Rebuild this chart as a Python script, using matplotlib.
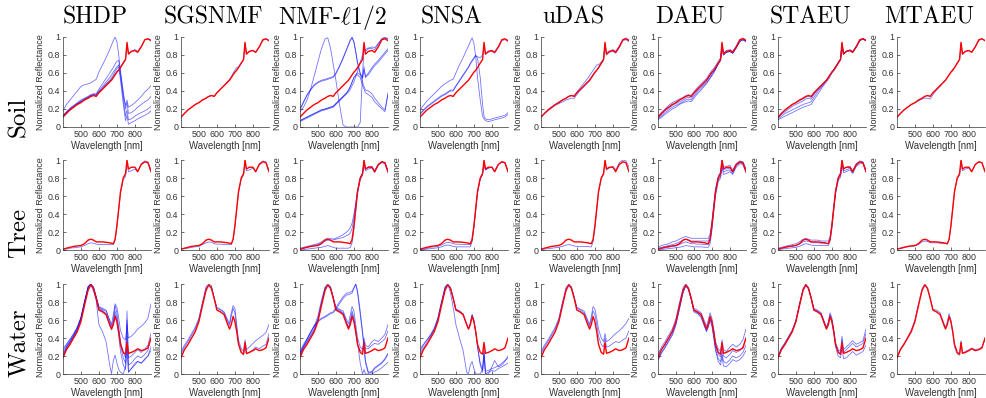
import matplotlib.pyplot as plt

plt.rcParams['mathtext.fontset'] = 'cm'
plt.rcParams['font.family'] = 'Liberation Sans'

# wavelength samples [nm]
wl = [401, 420, 440, 460, 480, 500, 520, 540, 555, 570, 585, 600, 620, 640, 660, 670,
      680, 690, 700, 710, 720, 735, 748, 756, 764, 780, 800, 815, 835, 855, 872, 889]

methods = ['SHDP', 'SGSNMF', r'NMF-$\ell$1/2', 'SNSA', 'uDAS', 'DAEU', 'STAEU', 'MTAEU']
materials = ['Soil', 'Tree', 'Water']

# ground truth (red)
soil_ref = [0.11, 0.15, 0.19, 0.22, 0.25, 0.27, 0.30, 0.32, 0.34, 0.35, 0.34, 0.38, 0.42, 0.46, 0.50, 0.52,
            0.55, 0.58, 0.61, 0.63, 0.66, 0.71, 0.75, 0.94, 0.81, 0.84, 0.85, 0.83, 0.89, 0.97, 0.98, 0.96]
tree_ref = [0.01, 0.02, 0.03, 0.04, 0.045, 0.05, 0.07, 0.11, 0.12, 0.11, 0.09, 0.09, 0.09, 0.085, 0.08, 0.075,
            0.07, 0.12, 0.27, 0.46, 0.65, 0.80, 0.85, 1.0, 0.90, 0.92, 0.92, 0.87, 0.95, 0.98, 0.97, 0.87]
water_ref = [0.18, 0.27, 0.33, 0.40, 0.47, 0.58, 0.76, 0.93, 0.99, 0.95, 0.84, 0.71, 0.69, 0.66, 0.55, 0.50,
             0.55, 0.64, 0.58, 0.47, 0.33, 0.24, 0.22, 0.35, 0.23, 0.24, 0.26, 0.28, 0.26, 0.27, 0.29, 0.40]

# ---- estimated endmembers (blue), soil ----
shdp_soil_1 = [0.18, 0.25, 0.30, 0.35, 0.40, 0.45, 0.47, 0.48, 0.49, 0.51, 0.53, 0.61, 0.69, 0.77, 0.86, 0.91,
               0.96, 1.0, 0.95, 0.80, 0.60, 0.36, 0.24, 0.30, 0.22, 0.24, 0.27, 0.30, 0.34, 0.39, 0.42, 0.46]
shdp_soil_2 = [0.13, 0.17, 0.21, 0.24, 0.27, 0.30, 0.32, 0.34, 0.36, 0.37, 0.37, 0.42, 0.48, 0.54, 0.60, 0.63,
               0.66, 0.70, 0.73, 0.74, 0.62, 0.40, 0.20, 0.27, 0.15, 0.16, 0.19, 0.22, 0.25, 0.28, 0.30, 0.34]
shdp_soil_3 = [0.12, 0.16, 0.20, 0.23, 0.26, 0.29, 0.31, 0.33, 0.35, 0.36, 0.36, 0.40, 0.45, 0.50, 0.55, 0.58,
               0.61, 0.64, 0.67, 0.69, 0.56, 0.32, 0.12, 0.19, 0.08, 0.09, 0.12, 0.14, 0.16, 0.18, 0.20, 0.23]
shdp_soil_4 = [0.12, 0.16, 0.19, 0.22, 0.25, 0.28, 0.30, 0.32, 0.34, 0.35, 0.35, 0.39, 0.43, 0.48, 0.52, 0.55,
               0.58, 0.62, 0.65, 0.67, 0.52, 0.26, 0.07, 0.13, 0.03, 0.05, 0.07, 0.09, 0.11, 0.13, 0.15, 0.18]
shdp_soil_5 = [0.12, 0.16, 0.20, 0.23, 0.26, 0.28, 0.31, 0.33, 0.35, 0.36, 0.35, 0.39, 0.43, 0.47, 0.51, 0.53,
               0.56, 0.59, 0.62, 0.64, 0.67, 0.72, 0.76, 0.92, 0.82, 0.84, 0.86, 0.84, 0.90, 0.97, 0.98, 0.97]
sgsnmf_soil_1 = [0.11, 0.15, 0.19, 0.22, 0.25, 0.27, 0.30, 0.32, 0.34, 0.35, 0.34, 0.38, 0.42, 0.46, 0.51, 0.53,
                 0.56, 0.60, 0.63, 0.66, 0.67, 0.71, 0.75, 0.93, 0.81, 0.84, 0.85, 0.83, 0.89, 0.96, 0.98, 0.96]
nmf_soil_1 = [0.17, 0.22, 0.30, 0.42, 0.57, 0.72, 0.87, 0.98, 0.99, 0.88, 0.70, 0.52, 0.25, 0.02, 0.0, 0.0,
              0.0, 0.0, 0.0, 0.0, 0.0, 0.05, 0.60, 0.86, 0.84, 0.87, 0.89, 0.88, 0.93, 0.98, 0.99, 0.98]
nmf_soil_2 = [0.20, 0.28, 0.36, 0.42, 0.47, 0.50, 0.52, 0.53, 0.54, 0.55, 0.56, 0.60, 0.68, 0.77, 0.87, 0.92,
              0.97, 1.0, 0.95, 0.84, 0.72, 0.60, 0.55, 0.67, 0.56, 0.60, 0.66, 0.70, 0.74, 0.79, 0.83, 0.87]
nmf_soil_3 = [0.06, 0.08, 0.10, 0.12, 0.14, 0.16, 0.18, 0.19, 0.20, 0.21, 0.22, 0.25, 0.29, 0.33, 0.37, 0.39,
              0.42, 0.46, 0.50, 0.56, 0.62, 0.72, 0.80, 0.85, 0.86, 0.88, 0.87, 0.86, 0.92, 0.98, 1.0, 0.98]
nmf_soil_4 = [0.07, 0.09, 0.11, 0.13, 0.15, 0.17, 0.19, 0.20, 0.21, 0.22, 0.23, 0.26, 0.30, 0.34, 0.38, 0.41,
              0.45, 0.50, 0.55, 0.58, 0.60, 0.58, 0.50, 0.45, 0.41, 0.40, 0.37, 0.32, 0.27, 0.22, 0.19, 0.38]
nmf_soil_5 = [0.19, 0.27, 0.35, 0.41, 0.46, 0.49, 0.51, 0.52, 0.53, 0.54, 0.55, 0.59, 0.67, 0.76, 0.86, 0.91,
              0.96, 0.99, 0.94, 0.83, 0.71, 0.59, 0.54, 0.64, 0.55, 0.58, 0.64, 0.68, 0.72, 0.77, 0.81, 0.85]
nmf_soil_6 = [0.07, 0.09, 0.11, 0.13, 0.15, 0.17, 0.19, 0.20, 0.21, 0.22, 0.23, 0.26, 0.30, 0.34, 0.38, 0.41,
              0.45, 0.50, 0.55, 0.57, 0.58, 0.55, 0.46, 0.42, 0.38, 0.36, 0.33, 0.28, 0.24, 0.20, 0.17, 0.36]
snsa_soil_1 = [0.19, 0.24, 0.29, 0.33, 0.37, 0.41, 0.45, 0.48, 0.50, 0.52, 0.53, 0.60, 0.69, 0.77, 0.86, 0.90,
               0.95, 0.99, 0.93, 0.78, 0.55, 0.30, 0.12, 0.09, 0.07, 0.06, 0.07, 0.08, 0.09, 0.10, 0.11, 0.14]
snsa_soil_2 = [0.14, 0.18, 0.22, 0.25, 0.28, 0.31, 0.34, 0.36, 0.38, 0.40, 0.40, 0.45, 0.51, 0.57, 0.63, 0.66,
               0.70, 0.73, 0.76, 0.79, 0.78, 0.77, 0.80, 0.90, 0.81, 0.83, 0.84, 0.82, 0.88, 0.96, 0.97, 0.95]
snsa_soil_3 = [0.15, 0.19, 0.23, 0.26, 0.29, 0.32, 0.35, 0.37, 0.39, 0.41, 0.41, 0.46, 0.52, 0.58, 0.64, 0.67,
               0.71, 0.74, 0.77, 0.80, 0.76, 0.55, 0.25, 0.12, 0.09, 0.08, 0.09, 0.10, 0.11, 0.12, 0.13, 0.16]
udas_soil_1 = [0.11, 0.15, 0.19, 0.22, 0.25, 0.28, 0.30, 0.32, 0.34, 0.35, 0.35, 0.39, 0.44, 0.49, 0.54, 0.57,
               0.60, 0.63, 0.66, 0.69, 0.69, 0.72, 0.76, 0.92, 0.82, 0.84, 0.86, 0.84, 0.90, 0.97, 0.99, 0.97]
udas_soil_2 = [0.11, 0.15, 0.18, 0.21, 0.24, 0.26, 0.28, 0.30, 0.31, 0.32, 0.32, 0.36, 0.41, 0.45, 0.49, 0.51,
               0.54, 0.57, 0.60, 0.63, 0.65, 0.70, 0.74, 0.92, 0.80, 0.83, 0.84, 0.82, 0.88, 0.96, 0.97, 0.95]
daeu_soil_1 = [0.12, 0.16, 0.20, 0.24, 0.27, 0.29, 0.31, 0.33, 0.35, 0.36, 0.35, 0.39, 0.44, 0.48, 0.52, 0.54,
               0.57, 0.60, 0.63, 0.65, 0.68, 0.73, 0.77, 0.93, 0.82, 0.85, 0.86, 0.84, 0.90, 0.97, 0.99, 0.97]
daeu_soil_2 = [0.10, 0.14, 0.18, 0.21, 0.24, 0.26, 0.28, 0.30, 0.32, 0.33, 0.32, 0.36, 0.41, 0.45, 0.49, 0.51,
               0.54, 0.57, 0.60, 0.62, 0.65, 0.70, 0.74, 0.91, 0.80, 0.83, 0.84, 0.82, 0.88, 0.96, 0.97, 0.95]
daeu_soil_3 = [0.09, 0.12, 0.16, 0.19, 0.22, 0.24, 0.26, 0.28, 0.30, 0.31, 0.30, 0.34, 0.39, 0.43, 0.47, 0.49,
               0.52, 0.55, 0.58, 0.61, 0.64, 0.70, 0.74, 0.90, 0.80, 0.83, 0.84, 0.82, 0.88, 0.95, 0.97, 0.95]
daeu_soil_4 = [0.08, 0.11, 0.14, 0.17, 0.20, 0.22, 0.25, 0.27, 0.28, 0.29, 0.28, 0.32, 0.37, 0.41, 0.46, 0.48,
               0.51, 0.54, 0.57, 0.60, 0.64, 0.70, 0.75, 0.90, 0.81, 0.83, 0.84, 0.82, 0.88, 0.95, 0.97, 0.95]
staeu_soil_1 = [0.08, 0.10, 0.12, 0.14, 0.16, 0.18, 0.20, 0.22, 0.23, 0.24, 0.25, 0.30, 0.36, 0.42, 0.48, 0.50,
                0.53, 0.56, 0.60, 0.63, 0.66, 0.71, 0.75, 0.92, 0.81, 0.84, 0.85, 0.83, 0.89, 0.96, 0.98, 0.96]
staeu_soil_2 = [0.09, 0.12, 0.15, 0.17, 0.19, 0.21, 0.23, 0.25, 0.26, 0.27, 0.28, 0.33, 0.39, 0.44, 0.49, 0.52,
                0.55, 0.58, 0.61, 0.64, 0.67, 0.71, 0.75, 0.92, 0.81, 0.84, 0.85, 0.83, 0.89, 0.96, 0.98, 0.96]
staeu_soil_3 = [0.10, 0.14, 0.17, 0.20, 0.23, 0.25, 0.27, 0.29, 0.31, 0.32, 0.31, 0.36, 0.41, 0.45, 0.50, 0.52,
                0.55, 0.58, 0.61, 0.64, 0.67, 0.72, 0.76, 0.92, 0.82, 0.84, 0.86, 0.84, 0.90, 0.97, 0.98, 0.97]
staeu_soil_4 = [0.11, 0.15, 0.19, 0.22, 0.25, 0.27, 0.29, 0.31, 0.33, 0.34, 0.33, 0.37, 0.42, 0.46, 0.50, 0.52,
                0.55, 0.58, 0.61, 0.63, 0.66, 0.71, 0.75, 0.93, 0.81, 0.84, 0.85, 0.83, 0.89, 0.96, 0.98, 0.96]
mtaeu_soil_1 = [0.11, 0.15, 0.19, 0.22, 0.25, 0.27, 0.29, 0.31, 0.32, 0.32, 0.31, 0.36, 0.41, 0.45, 0.50, 0.52,
                0.55, 0.58, 0.61, 0.64, 0.66, 0.71, 0.75, 0.93, 0.81, 0.84, 0.85, 0.83, 0.89, 0.96, 0.98, 0.96]

# ---- tree ----
shdp_tree_1 = [0.005, 0.01, 0.02, 0.025, 0.03, 0.035, 0.05, 0.07, 0.08, 0.075, 0.065, 0.06, 0.06, 0.06, 0.06, 0.06,
               0.06, 0.11, 0.26, 0.45, 0.63, 0.78, 0.82, 0.96, 0.87, 0.88, 0.90, 0.87, 0.96, 0.99, 0.98, 0.89]
sgsnmf_tree_1 = [0.01, 0.015, 0.02, 0.03, 0.035, 0.04, 0.06, 0.08, 0.09, 0.085, 0.07, 0.065, 0.065, 0.06, 0.06, 0.06,
                 0.06, 0.11, 0.26, 0.45, 0.64, 0.79, 0.83, 0.97, 0.88, 0.89, 0.91, 0.87, 0.96, 0.99, 0.98, 0.89]
nmf_tree_1 = [0.02, 0.03, 0.04, 0.05, 0.06, 0.07, 0.09, 0.12, 0.13, 0.13, 0.12, 0.13, 0.15, 0.17, 0.20, 0.22,
              0.25, 0.30, 0.40, 0.52, 0.66, 0.80, 0.86, 0.99, 0.90, 0.92, 0.93, 0.88, 0.95, 0.98, 0.97, 0.88]
nmf_tree_2 = [0.01, 0.02, 0.03, 0.04, 0.05, 0.06, 0.08, 0.10, 0.11, 0.11, 0.11, 0.12, 0.13, 0.14, 0.16, 0.17,
              0.19, 0.24, 0.35, 0.50, 0.65, 0.80, 0.85, 0.99, 0.90, 0.92, 0.92, 0.87, 0.95, 0.98, 0.97, 0.87]
nmf_tree_3 = [0.0, 0.005, 0.01, 0.015, 0.02, 0.025, 0.03, 0.04, 0.05, 0.04, 0.03, 0.02, 0.02, 0.02, 0.02, 0.02,
              0.03, 0.08, 0.22, 0.42, 0.62, 0.78, 0.83, 0.97, 0.88, 0.90, 0.91, 0.86, 0.94, 0.97, 0.96, 0.86]
snsa_tree_1 = [0.005, 0.01, 0.02, 0.03, 0.035, 0.04, 0.055, 0.075, 0.085, 0.08, 0.07, 0.065, 0.065, 0.06, 0.06, 0.06,
               0.06, 0.11, 0.26, 0.45, 0.64, 0.79, 0.84, 0.98, 0.89, 0.91, 0.92, 0.87, 0.95, 0.98, 0.97, 0.88]
snsa_tree_2 = [0.0, 0.005, 0.01, 0.015, 0.02, 0.025, 0.035, 0.05, 0.055, 0.05, 0.04, 0.035, 0.035, 0.035, 0.035, 0.035,
               0.035, 0.09, 0.25, 0.45, 0.64, 0.79, 0.84, 0.98, 0.89, 0.91, 0.92, 0.87, 0.95, 0.98, 0.97, 0.88]
udas_tree_1 = [0.005, 0.01, 0.015, 0.02, 0.025, 0.03, 0.04, 0.055, 0.06, 0.055, 0.045, 0.04, 0.04, 0.04, 0.04, 0.035,
               0.035, 0.09, 0.24, 0.44, 0.64, 0.79, 0.84, 0.98, 0.89, 0.91, 0.93, 0.89, 0.97, 1.0, 0.99, 0.92]
daeu_tree_1 = [0.03, 0.05, 0.06, 0.07, 0.09, 0.10, 0.12, 0.14, 0.15, 0.14, 0.13, 0.13, 0.13, 0.13, 0.13, 0.13,
               0.13, 0.18, 0.32, 0.50, 0.68, 0.82, 0.87, 1.0, 0.93, 0.93, 0.94, 0.89, 0.96, 0.99, 0.98, 0.90]
daeu_tree_2 = [0.02, 0.03, 0.04, 0.05, 0.06, 0.07, 0.09, 0.11, 0.12, 0.11, 0.10, 0.10, 0.10, 0.10, 0.10, 0.10,
               0.10, 0.15, 0.29, 0.48, 0.66, 0.80, 0.85, 0.98, 0.90, 0.90, 0.91, 0.87, 0.95, 0.98, 0.97, 0.89]
daeu_tree_3 = [0.01, 0.02, 0.025, 0.03, 0.04, 0.045, 0.06, 0.08, 0.09, 0.08, 0.07, 0.07, 0.065, 0.065, 0.06, 0.06,
               0.06, 0.11, 0.26, 0.45, 0.63, 0.78, 0.82, 0.95, 0.87, 0.88, 0.89, 0.85, 0.94, 0.97, 0.96, 0.88]
daeu_tree_4 = [0.0, 0.005, 0.01, 0.015, 0.02, 0.025, 0.03, 0.04, 0.05, 0.045, 0.04, 0.035, 0.035, 0.035, 0.03, 0.03,
               0.03, 0.07, 0.22, 0.42, 0.60, 0.76, 0.80, 0.92, 0.84, 0.85, 0.87, 0.84, 0.92, 0.96, 0.95, 0.86]
staeu_tree_1 = [0.02, 0.03, 0.04, 0.05, 0.06, 0.07, 0.09, 0.12, 0.13, 0.12, 0.11, 0.11, 0.11, 0.10, 0.10, 0.10,
                0.10, 0.15, 0.30, 0.48, 0.66, 0.81, 0.86, 0.99, 0.91, 0.92, 0.93, 0.88, 0.96, 0.99, 0.98, 0.89]
staeu_tree_2 = [0.01, 0.02, 0.03, 0.035, 0.04, 0.05, 0.065, 0.09, 0.10, 0.095, 0.085, 0.08, 0.08, 0.075, 0.075, 0.07,
                0.07, 0.12, 0.27, 0.46, 0.64, 0.79, 0.83, 0.97, 0.88, 0.89, 0.91, 0.86, 0.94, 0.98, 0.97, 0.88]
staeu_tree_3 = [0.0, 0.01, 0.015, 0.02, 0.025, 0.03, 0.04, 0.06, 0.07, 0.065, 0.055, 0.05, 0.05, 0.05, 0.05, 0.05,
                0.05, 0.10, 0.25, 0.44, 0.62, 0.77, 0.81, 0.95, 0.86, 0.87, 0.89, 0.85, 0.93, 0.96, 0.96, 0.87]
mtaeu_tree_1 = [0.01, 0.015, 0.025, 0.035, 0.04, 0.045, 0.06, 0.09, 0.10, 0.095, 0.08, 0.08, 0.08, 0.075, 0.07, 0.07,
                0.065, 0.115, 0.27, 0.46, 0.65, 0.79, 0.83, 0.98, 0.88, 0.90, 0.91, 0.87, 0.95, 0.98, 0.97, 0.88]

# ---- water ----
shdp_water_1 = [0.20, 0.30, 0.36, 0.42, 0.50, 0.62, 0.80, 0.96, 1.0, 0.92, 0.82, 0.55, 0.47, 0.36, 0.10, 0.0,
                0.15, 0.21, 0.12, 0.05, 0.02, 0.0, 0.08, 0.42, 0.02, 0.06, 0.10, 0.14, 0.12, 0.17, 0.20, 0.26]
shdp_water_2 = [0.25, 0.32, 0.38, 0.44, 0.52, 0.62, 0.80, 0.97, 1.0, 0.97, 0.86, 0.74, 0.72, 0.70, 0.60, 0.55,
                0.66, 0.78, 0.74, 0.62, 0.48, 0.40, 0.38, 0.55, 0.40, 0.42, 0.46, 0.50, 0.53, 0.57, 0.62, 0.78]
shdp_water_3 = [0.22, 0.30, 0.36, 0.43, 0.50, 0.61, 0.79, 0.96, 1.0, 0.96, 0.85, 0.73, 0.71, 0.67, 0.56, 0.50,
                0.57, 0.70, 0.62, 0.48, 0.32, 0.18, 0.12, 0.60, 0.10, 0.12, 0.17, 0.20, 0.18, 0.22, 0.26, 0.40]
shdp_water_4 = [0.20, 0.28, 0.35, 0.42, 0.49, 0.60, 0.78, 0.95, 0.99, 0.95, 0.84, 0.72, 0.70, 0.66, 0.54, 0.49,
                0.55, 0.66, 0.58, 0.42, 0.25, 0.10, 0.05, 0.30, 0.02, 0.06, 0.12, 0.14, 0.12, 0.16, 0.20, 0.30]
shdp_water_5 = [0.28, 0.33, 0.39, 0.45, 0.52, 0.63, 0.80, 0.97, 1.0, 0.96, 0.86, 0.75, 0.73, 0.71, 0.59, 0.53,
                0.60, 0.76, 0.68, 0.52, 0.36, 0.24, 0.18, 0.70, 0.18, 0.20, 0.24, 0.27, 0.24, 0.28, 0.32, 0.45]
sgsnmf_water_1 = [0.25, 0.32, 0.38, 0.45, 0.52, 0.62, 0.80, 0.97, 1.0, 0.98, 0.84, 0.74, 0.72, 0.69, 0.60, 0.56,
                  0.68, 0.76, 0.73, 0.55, 0.38, 0.28, 0.25, 0.38, 0.27, 0.30, 0.34, 0.37, 0.40, 0.43, 0.46, 0.55]
sgsnmf_water_2 = [0.22, 0.30, 0.36, 0.43, 0.50, 0.60, 0.78, 0.95, 0.99, 0.97, 0.85, 0.73, 0.71, 0.68, 0.58, 0.54,
                  0.64, 0.73, 0.68, 0.50, 0.34, 0.24, 0.21, 0.33, 0.22, 0.24, 0.27, 0.30, 0.28, 0.31, 0.33, 0.45]
nmf_water_1 = [0.25, 0.33, 0.39, 0.46, 0.53, 0.64, 0.82, 0.97, 1.0, 0.97, 0.86, 0.74, 0.72, 0.70, 0.60, 0.56,
               0.66, 0.75, 0.70, 0.55, 0.40, 0.30, 0.27, 0.40, 0.32, 0.30, 0.36, 0.38, 0.36, 0.40, 0.44, 0.55]
nmf_water_2 = [0.22, 0.30, 0.36, 0.43, 0.50, 0.61, 0.79, 0.95, 0.99, 0.96, 0.85, 0.73, 0.71, 0.68, 0.57, 0.52,
               0.60, 0.70, 0.62, 0.48, 0.35, 0.12, 0.0, 0.05, 0.0, 0.0, 0.0, 0.02, 0.04, 0.07, 0.10, 0.13]
nmf_water_3 = [0.20, 0.28, 0.35, 0.42, 0.49, 0.60, 0.78, 0.95, 0.99, 0.96, 0.85, 0.72, 0.70, 0.67, 0.56, 0.51,
               0.57, 0.67, 0.60, 0.47, 0.33, 0.26, 0.25, 0.36, 0.28, 0.28, 0.32, 0.34, 0.33, 0.36, 0.39, 0.48]
nmf_water_4 = [0.22, 0.30, 0.38, 0.46, 0.53, 0.58, 0.61, 0.63, 0.65, 0.67, 0.68, 0.72, 0.78, 0.84, 0.88, 0.88,
               0.89, 0.90, 0.95, 1.0, 0.93, 0.70, 0.47, 0.32, 0.15, 0.02, 0.03, 0.07, 0.10, 0.13, 0.17, 0.23]
nmf_water_5 = [0.24, 0.31, 0.39, 0.47, 0.54, 0.59, 0.62, 0.64, 0.66, 0.68, 0.69, 0.74, 0.80, 0.86, 0.90, 0.90,
               0.91, 0.92, 0.96, 1.0, 0.90, 0.66, 0.44, 0.30, 0.12, 0.01, 0.02, 0.06, 0.09, 0.12, 0.16, 0.22]
snsa_water_1 = [0.28, 0.33, 0.38, 0.43, 0.50, 0.62, 0.80, 0.96, 1.0, 0.90, 0.74, 0.55, 0.40, 0.26, 0.02, 0.0,
                0.10, 0.14, 0.06, 0.0, 0.0, 0.0, 0.05, 0.25, 0.0, 0.0, 0.08, 0.15, 0.08, 0.10, 0.14, 0.20]
snsa_water_2 = [0.25, 0.32, 0.38, 0.44, 0.51, 0.62, 0.80, 0.97, 1.0, 0.96, 0.85, 0.72, 0.70, 0.67, 0.55, 0.50,
                0.56, 0.66, 0.60, 0.48, 0.30, 0.12, 0.05, 0.28, 0.03, 0.04, 0.06, 0.07, 0.09, 0.12, 0.15, 0.18]
snsa_water_3 = [0.22, 0.29, 0.35, 0.42, 0.49, 0.60, 0.78, 0.95, 0.99, 0.96, 0.84, 0.72, 0.70, 0.66, 0.55, 0.50,
                0.56, 0.66, 0.59, 0.46, 0.30, 0.10, 0.02, 0.20, 0.0, 0.02, 0.04, 0.03, 0.06, 0.08, 0.10, 0.12]
udas_water_1 = [0.25, 0.32, 0.38, 0.45, 0.52, 0.62, 0.80, 0.96, 1.0, 0.97, 0.86, 0.74, 0.72, 0.70, 0.60, 0.55,
                0.64, 0.75, 0.72, 0.62, 0.50, 0.40, 0.36, 0.45, 0.36, 0.38, 0.42, 0.45, 0.48, 0.52, 0.56, 0.62]
udas_water_2 = [0.22, 0.30, 0.36, 0.43, 0.50, 0.60, 0.78, 0.95, 0.99, 0.96, 0.85, 0.73, 0.71, 0.68, 0.58, 0.53,
                0.60, 0.70, 0.66, 0.55, 0.42, 0.33, 0.30, 0.40, 0.30, 0.31, 0.34, 0.36, 0.35, 0.38, 0.40, 0.48]
daeu_water_1 = [0.22, 0.30, 0.36, 0.43, 0.50, 0.61, 0.79, 0.96, 1.0, 0.96, 0.85, 0.73, 0.71, 0.68, 0.58, 0.53,
                0.60, 0.68, 0.62, 0.50, 0.36, 0.28, 0.25, 0.38, 0.27, 0.25, 0.30, 0.33, 0.30, 0.33, 0.38, 0.50]
daeu_water_2 = [0.19, 0.27, 0.33, 0.40, 0.47, 0.58, 0.76, 0.93, 0.99, 0.95, 0.84, 0.71, 0.69, 0.66, 0.55, 0.50,
                0.56, 0.64, 0.58, 0.46, 0.31, 0.22, 0.19, 0.30, 0.20, 0.18, 0.22, 0.26, 0.24, 0.26, 0.30, 0.40]
daeu_water_3 = [0.16, 0.24, 0.30, 0.37, 0.44, 0.55, 0.73, 0.91, 0.98, 0.94, 0.83, 0.70, 0.68, 0.64, 0.53, 0.48,
                0.53, 0.61, 0.55, 0.42, 0.28, 0.17, 0.14, 0.24, 0.14, 0.12, 0.16, 0.20, 0.18, 0.20, 0.24, 0.32]
daeu_water_4 = [0.15, 0.23, 0.29, 0.36, 0.43, 0.54, 0.72, 0.90, 0.98, 0.94, 0.83, 0.69, 0.67, 0.63, 0.52, 0.47,
                0.52, 0.60, 0.53, 0.40, 0.26, 0.14, 0.10, 0.20, 0.09, 0.08, 0.12, 0.16, 0.14, 0.16, 0.20, 0.26]
staeu_water_1 = [0.20, 0.29, 0.35, 0.42, 0.49, 0.60, 0.78, 0.95, 1.0, 0.96, 0.85, 0.73, 0.71, 0.68, 0.57, 0.52,
                 0.58, 0.68, 0.62, 0.50, 0.35, 0.27, 0.25, 0.42, 0.27, 0.30, 0.34, 0.37, 0.33, 0.35, 0.37, 0.50]
staeu_water_2 = [0.19, 0.28, 0.34, 0.41, 0.48, 0.59, 0.77, 0.94, 0.99, 0.96, 0.85, 0.72, 0.70, 0.67, 0.56, 0.51,
                 0.57, 0.66, 0.60, 0.48, 0.33, 0.25, 0.22, 0.38, 0.24, 0.27, 0.31, 0.34, 0.30, 0.32, 0.34, 0.45]
staeu_water_3 = [0.18, 0.27, 0.33, 0.40, 0.47, 0.58, 0.76, 0.93, 0.99, 0.95, 0.84, 0.71, 0.69, 0.66, 0.55, 0.50,
                 0.55, 0.64, 0.58, 0.46, 0.30, 0.20, 0.18, 0.30, 0.17, 0.18, 0.22, 0.25, 0.21, 0.23, 0.25, 0.32]
mtaeu_water_1 = [0.19, 0.28, 0.34, 0.41, 0.49, 0.60, 0.78, 0.95, 1.0, 0.96, 0.85, 0.72, 0.71, 0.68, 0.57, 0.52,
                 0.58, 0.67, 0.60, 0.47, 0.30, 0.22, 0.21, 0.37, 0.23, 0.25, 0.27, 0.29, 0.27, 0.28, 0.30, 0.38]

refs = [soil_ref, tree_ref, water_ref]
estimates = [
    [[shdp_soil_1, shdp_soil_2, shdp_soil_3, shdp_soil_4, shdp_soil_5],
     [sgsnmf_soil_1],
     [nmf_soil_1, nmf_soil_2, nmf_soil_3, nmf_soil_4, nmf_soil_5, nmf_soil_6],
     [snsa_soil_1, snsa_soil_2, snsa_soil_3],
     [udas_soil_1, udas_soil_2],
     [daeu_soil_1, daeu_soil_2, daeu_soil_3, daeu_soil_4],
     [staeu_soil_1, staeu_soil_2, staeu_soil_3, staeu_soil_4],
     [mtaeu_soil_1]],
    [[shdp_tree_1],
     [sgsnmf_tree_1],
     [nmf_tree_1, nmf_tree_2, nmf_tree_3],
     [snsa_tree_1, snsa_tree_2],
     [udas_tree_1],
     [daeu_tree_1, daeu_tree_2, daeu_tree_3, daeu_tree_4],
     [staeu_tree_1, staeu_tree_2, staeu_tree_3],
     [mtaeu_tree_1]],
    [[shdp_water_1, shdp_water_2, shdp_water_3, shdp_water_4, shdp_water_5],
     [sgsnmf_water_1, sgsnmf_water_2],
     [nmf_water_1, nmf_water_2, nmf_water_3, nmf_water_4, nmf_water_5],
     [snsa_water_1, snsa_water_2, snsa_water_3],
     [udas_water_1, udas_water_2],
     [daeu_water_1, daeu_water_2, daeu_water_3, daeu_water_4],
     [staeu_water_1, staeu_water_2, staeu_water_3],
     [mtaeu_water_1]],
]

W, H = 987, 398
fig = plt.figure(figsize=(W / 100, H / 100), dpi=100)

ax_left = [63, 181, 300, 420, 541, 658, 778, 897]
ax_top = [37, 160, 284]
ax_w, ax_h = 88, 90
grey = '#333333'

for r in range(3):
    for c in range(8):
        ax = fig.add_axes([ax_left[c] / W, 1 - (ax_top[r] + ax_h) / H, ax_w / W, ax_h / H])
        for est in estimates[r][c]:
            ax.plot(wl, est, color='blue', lw=0.6, alpha=0.55)
        ax.plot(wl, refs[r], color='red', lw=1.0)
        ax.set_xlim(401, 889)
        ax.set_ylim(0, 1)
        ax.set_xticks([500, 600, 700, 800])
        ax.set_yticks([0, 0.2, 0.4, 0.6, 0.8, 1])
        ax.set_yticklabels(['0', '0.2', '0.4', '0.6', '0.8', '1'])
        ax.tick_params(direction='in', length=2, width=0.5, labelsize=6.4,
                       colors=grey, pad=2)
        for s in ['top', 'right']:
            ax.spines[s].set_visible(False)
        for s in ['left', 'bottom']:
            ax.spines[s].set_linewidth(0.5)
            ax.spines[s].set_color(grey)
        ax.set_xlabel('Wavelength [nm]', fontsize=6.9, color=grey, labelpad=1.5)
        ax.set_ylabel('Normalized Reflectance', fontsize=6.5, color=grey, labelpad=2)

for c in range(8):
    fig.text((ax_left[c] + ax_w / 2 - 12) / W, 1 - 17 / H, methods[c], fontsize=17,
             family='cmr10', ha='center', va='center')

row_y = [117, 233, 343]
for r in range(3):
    fig.text(19 / W, 1 - row_y[r] / H, materials[r], fontsize=18, family='cmr10',
             rotation=90, ha='center', va='center')

fig.savefig('out.png', dpi=100)
